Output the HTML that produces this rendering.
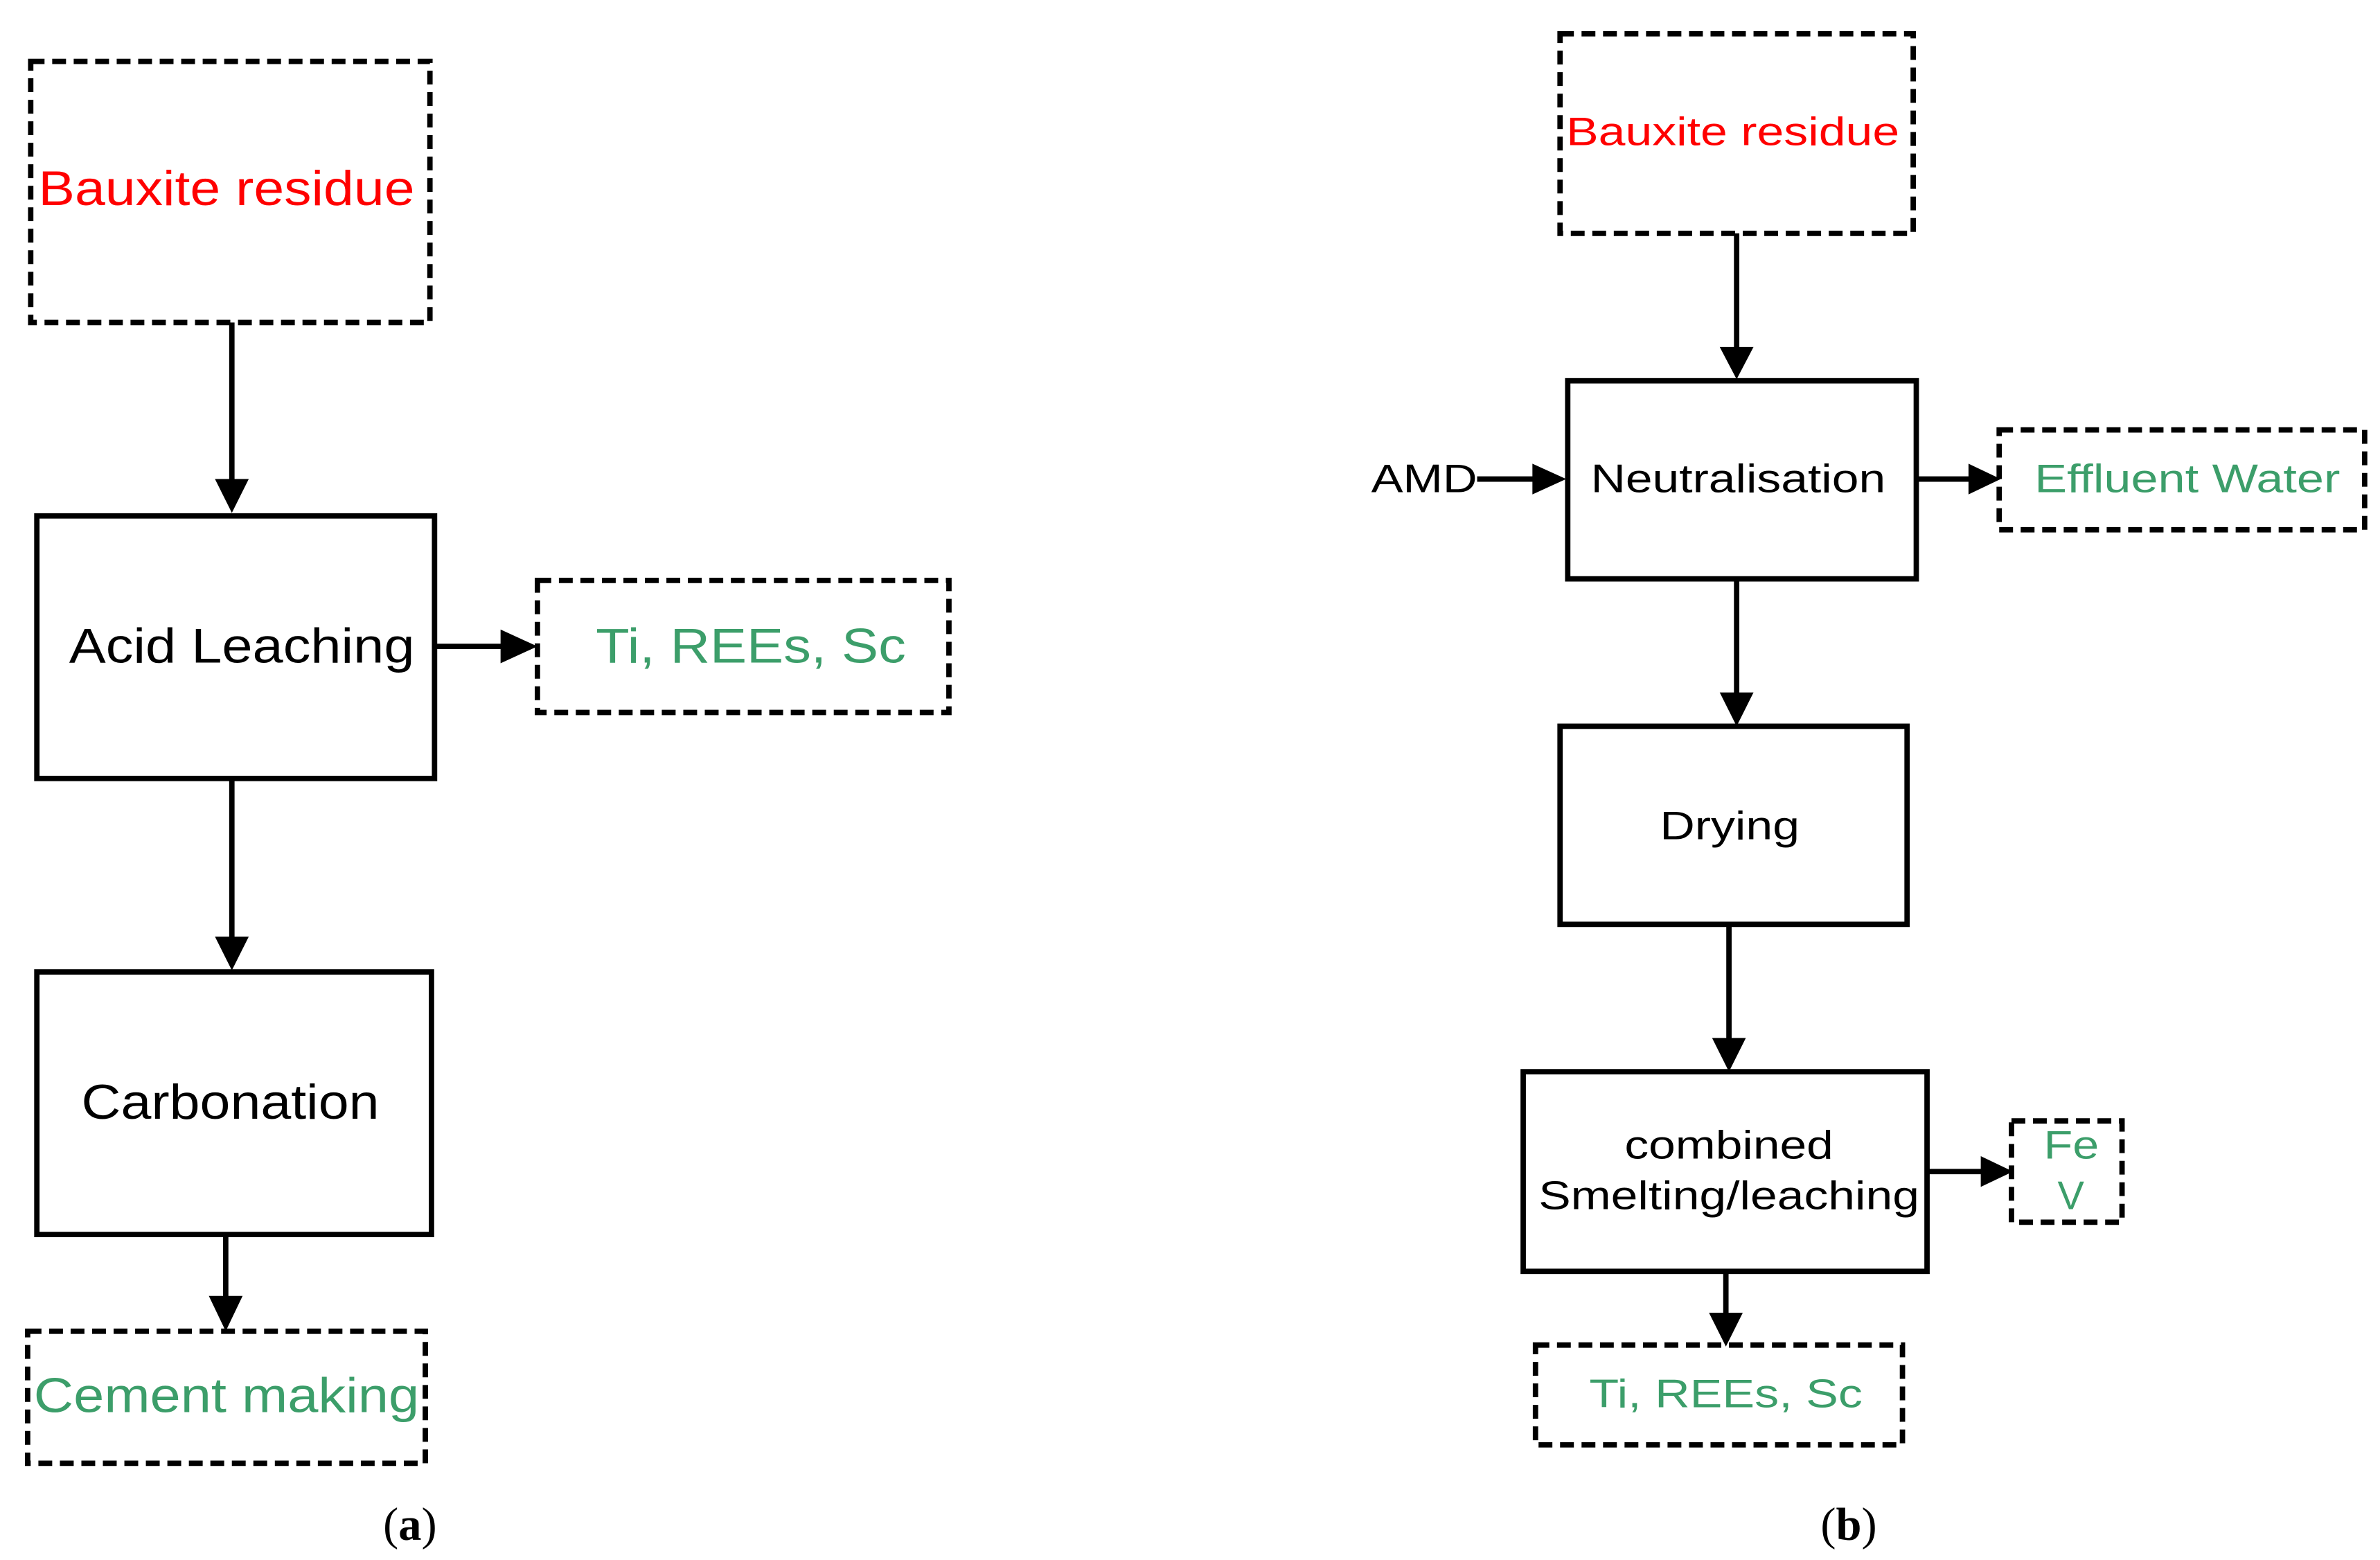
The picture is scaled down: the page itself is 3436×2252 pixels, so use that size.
<!DOCTYPE html>
<html><head><meta charset="utf-8"><style>
html,body{margin:0;padding:0;background:#fff;}
svg{display:block;}
text{font-family:"Liberation Sans",sans-serif;}
</style></head><body>
<svg width="3436" height="2252" viewBox="0 0 1550 1016" preserveAspectRatio="none" xmlns="http://www.w3.org/2000/svg">
<rect width="1550" height="1016" fill="#fff"/>
<g fill="none" stroke="#000" stroke-width="3.5" stroke-dasharray="9,5">
<rect x="20" y="40" width="260" height="170"/>
<rect x="350" y="378" width="268" height="86"/>
<rect x="18" y="867" width="259" height="86"/>
<rect x="1016" y="22" width="230" height="130"/>
<rect x="1302" y="280" width="238" height="65"/>
<rect x="1310" y="730" width="72" height="66"/>
<rect x="1000" y="876" width="239" height="65"/>
</g>
<g fill="none" stroke="#000" stroke-width="3.5">
<rect x="24" y="336" width="259" height="171"/>
<rect x="24" y="633" width="257" height="171"/>
<rect x="1021" y="248" width="227" height="129"/>
<rect x="1016" y="473" width="226" height="129"/>
<rect x="992" y="698" width="263" height="130"/>
</g>
<g stroke="#000" stroke-width="3.5">
<line x1="151" y1="210" x2="151" y2="318"/>
<line x1="283" y1="421" x2="334" y2="421"/>
<line x1="151" y1="507" x2="151" y2="617"/>
<line x1="147" y1="804" x2="147" y2="851"/>
<line x1="1131" y1="152" x2="1131" y2="231"/>
<line x1="962" y1="312" x2="1006" y2="312"/>
<line x1="1248" y1="312" x2="1288" y2="312"/>
<line x1="1131" y1="377" x2="1131" y2="456"/>
<line x1="1126" y1="602" x2="1126" y2="682"/>
<line x1="1255" y1="763" x2="1296" y2="763"/>
<line x1="1124" y1="828" x2="1124" y2="860"/>
</g>
<g fill="#000">
<polygon points="140,312 162,312 151,334"/>
<polygon points="326,410 326,432 350,421"/>
<polygon points="140,610 162,610 151,632"/>
<polygon points="136,844 158,844 147,867"/>
<polygon points="1120,226 1142,226 1131,247"/>
<polygon points="998,302 998,322 1020,312"/>
<polygon points="1282,302 1282,322 1303,312"/>
<polygon points="1120,451 1142,451 1131,473"/>
<polygon points="1115,676 1137,676 1126,698"/>
<polygon points="1290,753 1290,773 1311,763"/>
<polygon points="1113,855 1135,855 1124,877"/>
</g>
<g dominant-baseline="central">
<text x="25" y="123" font-size="32" fill="#ff0000" textLength="245" lengthAdjust="spacingAndGlyphs">Bauxite residue</text>
<text x="45" y="421" font-size="32" fill="#000" textLength="225" lengthAdjust="spacingAndGlyphs">Acid Leaching</text>
<text x="388" y="421" font-size="32" fill="#3c9e6a" textLength="202" lengthAdjust="spacingAndGlyphs">Ti, REEs, Sc</text>
<text x="53" y="718" font-size="32" fill="#000" textLength="194" lengthAdjust="spacingAndGlyphs">Carbonation</text>
<text x="22" y="909" font-size="32" fill="#3c9e6a" textLength="251" lengthAdjust="spacingAndGlyphs">Cement making</text>
<text x="1020" y="86" font-size="26" fill="#ff0000" textLength="217" lengthAdjust="spacingAndGlyphs">Bauxite residue</text>
<text x="1036" y="312" font-size="26" fill="#000" textLength="192" lengthAdjust="spacingAndGlyphs">Neutralisation</text>
<text x="893" y="312" font-size="26" fill="#000" textLength="69" lengthAdjust="spacingAndGlyphs">AMD</text>
<text x="1325" y="312" font-size="26" fill="#3c9e6a" textLength="199" lengthAdjust="spacingAndGlyphs">Effluent Water</text>
<text x="1081" y="538" font-size="26" fill="#000" textLength="91" lengthAdjust="spacingAndGlyphs">Drying</text>
<text x="1058" y="746" font-size="26" fill="#000" textLength="136" lengthAdjust="spacingAndGlyphs">combined</text>
<text x="1002" y="779" font-size="26" fill="#000" textLength="248" lengthAdjust="spacingAndGlyphs">Smelting/leaching</text>
<text x="1331" y="746" font-size="26" fill="#3c9e6a" textLength="36" lengthAdjust="spacingAndGlyphs">Fe</text>
<text x="1340" y="779" font-size="26" fill="#3c9e6a">V</text>
<text x="1035" y="908" font-size="26" fill="#3c9e6a" textLength="178" lengthAdjust="spacingAndGlyphs">Ti, REEs, Sc</text>
</g>
<g text-anchor="middle" dominant-baseline="central">
<text x="267" y="993" font-size="30" fill="#000" style="font-family:'Liberation Serif',serif">(<tspan font-weight="bold">a</tspan>)</text>
<text x="1204" y="993" font-size="30" fill="#000" style="font-family:'Liberation Serif',serif">(<tspan font-weight="bold">b</tspan>)</text>
</g>
</svg>
</body></html>
